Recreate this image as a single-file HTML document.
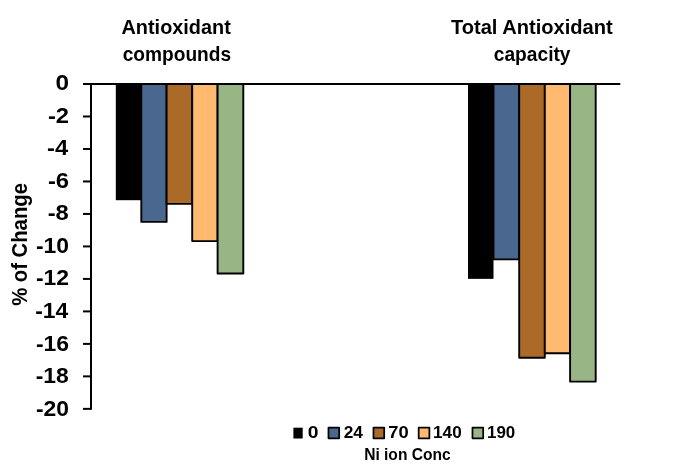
<!DOCTYPE html>
<html lang="en"><head><meta charset="utf-8"><title>Antioxidant chart</title>
<style>html,body{margin:0;padding:0;background:#fff}body{width:685px;height:471px;overflow:hidden}svg{display:block}text{font-family:"Liberation Sans", sans-serif;font-weight:700;fill:#000}</style>
</head><body>
<svg width="685" height="471" viewBox="0 0 685 471" style="filter:blur(0.4px)">
<rect width="685" height="471" fill="#fff"/>
<rect x="115.80" y="84.00" width="25.50" height="116.20" fill="#000"/>
<rect x="468.00" y="84.00" width="25.50" height="194.85" fill="#000"/>
<rect x="141.30" y="84.00" width="25.30" height="137.90" fill="#4A688F" stroke="#000" stroke-width="1.90" stroke-linejoin="round"/>
<rect x="166.60" y="84.00" width="25.60" height="119.85" fill="#AB6A28" stroke="#000" stroke-width="1.90" stroke-linejoin="round"/>
<rect x="192.20" y="84.00" width="25.40" height="157.10" fill="#FFBA70" stroke="#000" stroke-width="1.90" stroke-linejoin="round"/>
<rect x="217.60" y="84.00" width="25.70" height="189.55" fill="#98B586" stroke="#000" stroke-width="1.90" stroke-linejoin="round"/>
<rect x="493.50" y="84.00" width="25.70" height="175.40" fill="#4A688F" stroke="#000" stroke-width="1.90" stroke-linejoin="round"/>
<rect x="519.20" y="84.00" width="25.60" height="273.75" fill="#AB6A28" stroke="#000" stroke-width="1.90" stroke-linejoin="round"/>
<rect x="544.80" y="84.00" width="25.30" height="269.20" fill="#FFBA70" stroke="#000" stroke-width="1.90" stroke-linejoin="round"/>
<rect x="570.10" y="84.00" width="25.60" height="297.60" fill="#98B586" stroke="#000" stroke-width="1.90" stroke-linejoin="round"/>
<g stroke="#000" stroke-width="2" fill="none" stroke-linecap="butt">
<line x1="83" y1="84.00" x2="620.30" y2="84.00"/>
<line x1="91.00" y1="83.00" x2="91.00" y2="409.86"/>
<line x1="83" y1="116.49" x2="91.00" y2="116.49"/>
<line x1="83" y1="148.97" x2="91.00" y2="148.97"/>
<line x1="83" y1="181.46" x2="91.00" y2="181.46"/>
<line x1="83" y1="213.94" x2="91.00" y2="213.94"/>
<line x1="83" y1="246.43" x2="91.00" y2="246.43"/>
<line x1="83" y1="278.92" x2="91.00" y2="278.92"/>
<line x1="83" y1="311.40" x2="91.00" y2="311.40"/>
<line x1="83" y1="343.89" x2="91.00" y2="343.89"/>
<line x1="83" y1="376.37" x2="91.00" y2="376.37"/>
<line x1="83" y1="408.86" x2="91.00" y2="408.86"/>
</g>
<rect x="293.4" y="427.7" width="9.3" height="10.8" fill="#000"/>
<rect x="328.48" y="427.6" width="10.7" height="10.75" fill="#4A688F" stroke="#000" stroke-width="1.75" stroke-linejoin="round"/>
<rect x="373.48" y="427.6" width="10.7" height="10.75" fill="#AB6A28" stroke="#000" stroke-width="1.75" stroke-linejoin="round"/>
<rect x="418.68" y="427.6" width="10.7" height="10.75" fill="#FFBA70" stroke="#000" stroke-width="1.75" stroke-linejoin="round"/>
<rect x="472.48" y="427.6" width="10.7" height="10.75" fill="#98B586" stroke="#000" stroke-width="1.75" stroke-linejoin="round"/>
<text id="t1a" transform="translate(121.510,33.700) scale(0.9797,1.0000)" font-size="20.3">Antioxidant</text>
<text id="t1b" transform="translate(122.693,61.000) scale(0.9422,1.0000)" font-size="20.3">compounds</text>
<text id="t2a" transform="translate(450.952,33.700) scale(0.9902,1.0000)" font-size="20.3">Total Antioxidant</text>
<text id="t2b" transform="translate(493.792,60.800) scale(0.9445,1.0000)" font-size="20.3">capacity</text>
<text id="yl" transform="translate(26.700,305.861) rotate(-90) scale(0.9227,1.0400)" font-size="22">% of Change</text>
<text id="lt" transform="translate(364.140,459.900) scale(0.9279,1.0000)" font-size="16.8">Ni ion Conc</text>
<text id="l0" transform="translate(307.847,438.000) scale(1.1375,1.0000)" font-size="17">0</text>
<text id="l1" transform="translate(343.690,438.000) scale(1.0192,1.0000)" font-size="17">24</text>
<text id="l2" transform="translate(388.190,438.000) scale(1.0800,1.0000)" font-size="17">70</text>
<text id="l3" transform="translate(433.091,438.000) scale(1.0093,1.0000)" font-size="17">140</text>
<text id="l4" transform="translate(487.002,438.000) scale(0.9981,1.0000)" font-size="17">190</text>
<text id="k0" transform="translate(55.450,90.300) scale(1.1500,1.0000)" font-size="21.2">0</text>
<text id="k2" transform="translate(47.940,122.826) scale(1.1200,1.0000)" font-size="21.2">-2</text>
<text id="k4" transform="translate(47.100,155.352) scale(1.1200,1.0000)" font-size="21.2">-4</text>
<text id="k6" transform="translate(47.940,187.878) scale(1.1200,1.0000)" font-size="21.2">-6</text>
<text id="k8" transform="translate(47.660,220.404) scale(1.1200,1.0000)" font-size="21.2">-8</text>
<text id="k10" transform="translate(35.970,252.930) scale(1.0800,1.0000)" font-size="21.2">-10</text>
<text id="k12" transform="translate(35.970,285.456) scale(1.0800,1.0000)" font-size="21.2">-12</text>
<text id="k14" transform="translate(35.160,317.982) scale(1.0800,1.0000)" font-size="21.2">-14</text>
<text id="k16" transform="translate(35.970,350.508) scale(1.0800,1.0000)" font-size="21.2">-16</text>
<text id="k18" transform="translate(35.700,383.034) scale(1.0800,1.0000)" font-size="21.2">-18</text>
<text id="k20" transform="translate(35.970,415.560) scale(1.0800,1.0000)" font-size="21.2">-20</text>
</svg></body></html>
